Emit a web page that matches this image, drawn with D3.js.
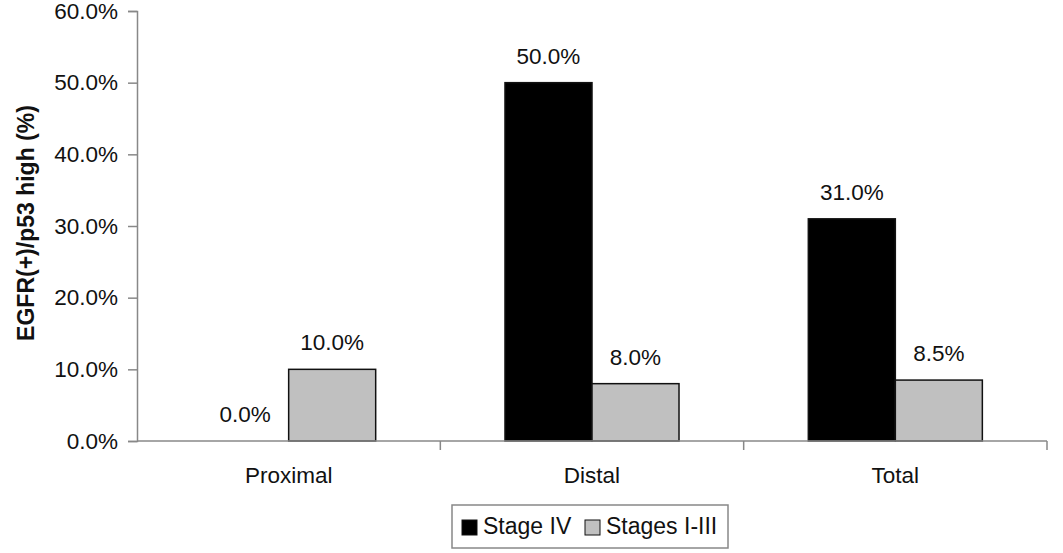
<!DOCTYPE html>
<html><head><meta charset="utf-8">
<script src="https://cdn.jsdelivr.net/npm/d3@7"></script>
<style>body{margin:0;background:#fff}svg{display:block}text{font-family:"Liberation Sans",Arial,sans-serif;fill:#111}</style>
</head><body><svg id="c" width="1063" height="553"></svg>
<script>
const categories = ["Proximal", "Distal", "Total"];
const seriesNames = ["Stage IV", "Stages I-III"];
const stageIV = [0.0, 50.0, 31.0];
const stagesI_III = [10.0, 8.0, 8.5];
const yTicks = [0, 10, 20, 30, 40, 50, 60];
const colors = ["#000000", "#c0c0c0"];
const yTitle = "EGFR(+)/p53 high (%)";

const svg = d3.select("#c");
const x0 = 137, x1 = 1047, yTop = 11, yBot = 441;
const x = d3.scaleBand().domain(categories).range([x0, x1]).paddingInner(0).paddingOuter(0);
const xs = d3.scaleBand().domain(seriesNames).range([0, x.bandwidth()]).paddingInner(0).paddingOuter(0.743);
const y = d3.scaleLinear().domain([0, 60]).range([yBot, yTop]);

const data = [];
categories.forEach((c, i) => {
  data.push({cat: c, s: seriesNames[0], v: stageIV[i], col: colors[0]});
  data.push({cat: c, s: seriesNames[1], v: stagesI_III[i], col: colors[1]});
});

// bars
svg.append("g").selectAll("rect").data(data.filter(d => d.v > 0)).join("rect")
  .attr("x", d => x(d.cat) + xs(d.s))
  .attr("y", d => y(d.v))
  .attr("width", xs.bandwidth())
  .attr("height", d => y(0) - y(d.v))
  .attr("fill", d => d.col)
  .attr("stroke", "#111").attr("stroke-width", 1.5);

// y axis
const yAxis = d3.axisLeft(y).tickValues(yTicks).tickSize(9).tickPadding(10)
  .tickFormat(d => d3.format(".1f")(d) + "%");
const gy = svg.append("g").attr("transform", `translate(${x0},0)`).call(yAxis);
gy.select(".domain").attr("stroke", "#888").attr("stroke-width", 1.5);
gy.selectAll(".tick line").attr("stroke", "#888").attr("stroke-width", 1.5);
gy.selectAll(".tick text").attr("font-size", 22.5).style("font-family", '"Liberation Sans",Arial,sans-serif').attr("fill", "#111");

// x axis
const gx = svg.append("g").attr("transform", `translate(0,${yBot})`);
gx.append("line").attr("x1", x0).attr("x2", x1).attr("stroke", "#888").attr("stroke-width", 1.5);
const bounds = categories.map(c => x(c) + x.bandwidth());
gx.selectAll("line.tk").data(bounds).join("line").attr("class", "tk")
  .attr("x1", d => d).attr("x2", d => d).attr("y1", 0).attr("y2", 9)
  .attr("stroke", "#888").attr("stroke-width", 1.5);
gx.selectAll("text").data(categories).join("text")
  .attr("x", d => x(d) + x.bandwidth() / 2).attr("y", 42)
  .attr("text-anchor", "middle").attr("font-size", 22.5).text(d => d);

// data labels
svg.append("g").selectAll("text").data(data).join("text")
  .attr("x", d => x(d.cat) + xs(d.s) + xs.bandwidth() / 2)
  .attr("y", d => y(d.v) - 19)
  .attr("text-anchor", "middle").attr("font-size", 22.5)
  .text(d => d3.format(".1f")(d.v) + "%");

// y title
svg.append("text").attr("transform", "translate(34,223) rotate(-90)")
  .attr("text-anchor", "middle").attr("font-size", 23).attr("font-weight", "bold").text(yTitle);

// legend
const lg = svg.append("g");
lg.append("rect").attr("x", 452).attr("y", 505).attr("width", 276).attr("height", 43)
  .attr("fill", "#fff").attr("stroke", "#888").attr("stroke-width", 1.5);
const legX = [462, 585];
seriesNames.forEach((s, i) => {
  lg.append("rect").attr("x", legX[i]).attr("y", 520).attr("width", 15).attr("height", 15)
    .attr("fill", colors[i]).attr("stroke", "#111").attr("stroke-width", 1);
  lg.append("text").attr("x", legX[i] + 21).attr("y", 534).attr("font-size", 23).text(s);
});
</script></body></html>
